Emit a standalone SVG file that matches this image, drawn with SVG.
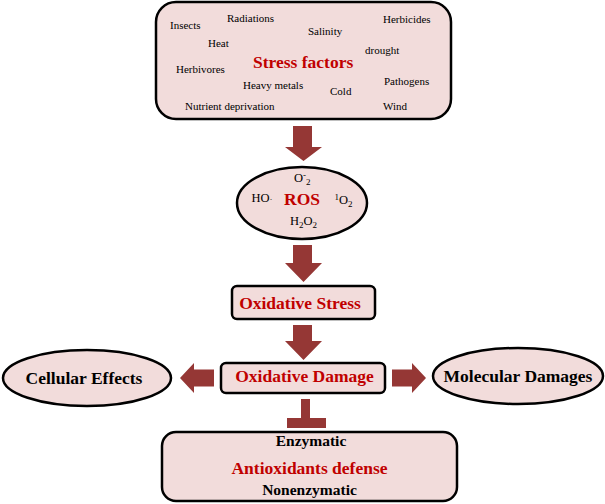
<svg xmlns="http://www.w3.org/2000/svg" width="605" height="504" viewBox="0 0 605 504">
<style>
.box{fill:#f2dcdb;stroke:#000;stroke-width:2.5}
.arr{fill:#953735}
text{font-family:"Liberation Serif","Times New Roman",serif}
.sm{font-size:11px;fill:#000}
.ttl{font-size:17.5px;font-weight:bold;fill:#c00000}
.blk{font-size:17.5px;font-weight:bold;fill:#000}
.sub{font-size:15.5px;font-weight:bold;fill:#000}
.chem{font-size:12.5px;fill:#000}
</style>
<rect width="605" height="504" fill="#fff"/>
<g id="connectors">
<polygon class="arr" points="293,126 312,126 312,147 322,147 303.5,161 285,147 293,147"/>
<polygon class="arr" points="293,245 312,245 312,263 322,263 303.5,282 285,263 293,263"/>
<polygon class="arr" points="293,325 312,325 312,341 322,341 303.5,360 285,341 293,341"/>
<polygon class="arr" points="214,369.5 194,369.5 194,363 180,378 194,393 194,386.5 214,386.5"/>
<polygon class="arr" points="392,369.5 412,369.5 412,363 426,378 412,393 412,386.5 392,386.5"/>
<polygon class="arr" points="301,399 310,399 310,418 326,418 326,428 287,428 287,418 301,418"/>
</g>
<g id="stress-factors">
<rect class="box" x="156" y="2" width="295" height="117" rx="20"/>
<text class="sm" x="170" y="29">Insects</text>
<text class="sm" x="227" y="22">Radiations</text>
<text class="sm" x="208" y="47">Heat</text>
<text class="sm" x="176" y="73">Herbivores</text>
<text class="sm" x="243" y="89">Heavy metals</text>
<text class="sm" x="185" y="110">Nutrient deprivation</text>
<text class="sm" x="308" y="35">Salinity</text>
<text class="sm" x="383" y="23">Herbicides</text>
<text class="sm" x="365" y="54">drought</text>
<text class="sm" x="384" y="85">Pathogens</text>
<text class="sm" x="330" y="95">Cold</text>
<text class="sm" x="383" y="110">Wind</text>
<text class="ttl" x="253" y="68">Stress factors</text>
</g>
<g id="ros">
<ellipse class="box" cx="302" cy="203" rx="65" ry="36"/>
<text class="chem" x="294" y="182">O<tspan font-size="9" dy="-4">-</tspan><tspan font-size="9" dy="7">2</tspan></text>
<text class="chem" x="251.5" y="202">HO<tspan font-size="9">·</tspan></text>
<text class="ttl" x="284" y="204.5">ROS</text>
<text class="chem" x="334.5" y="204"><tspan font-size="9" dy="-4">1</tspan><tspan dy="4">O</tspan><tspan font-size="9" dy="3">2</tspan></text>
<text class="chem" x="290" y="225">H<tspan font-size="9" dy="3">2</tspan><tspan dy="-3">O</tspan><tspan font-size="9" dy="3">2</tspan></text>
</g>
<g id="oxidative-stress">
<rect class="box" x="232" y="286" width="143" height="33" rx="5"/>
<text class="ttl" x="300" y="308.5" text-anchor="middle">Oxidative Stress</text>
</g>
<g id="oxidative-damage">
<rect class="box" x="221" y="363" width="164" height="30" rx="5"/>
<text class="ttl" x="304.5" y="382" text-anchor="middle">Oxidative Damage</text>
</g>
<g id="cellular-effects">
<ellipse class="box" cx="87" cy="378" rx="84" ry="28"/>
<text class="blk" x="84" y="384" text-anchor="middle">Cellular Effects</text>
</g>
<g id="molecular-damages">
<ellipse class="box" cx="518" cy="376" rx="85" ry="28"/>
<text class="blk" x="518" y="382" text-anchor="middle">Molecular Damages</text>
</g>
<g id="antioxidants">
<rect class="box" x="162" y="432" width="295" height="69" rx="14"/>
<text class="sub" x="311" y="446" text-anchor="middle">Enzymatic</text>
<text class="ttl" x="309.5" y="473.5" text-anchor="middle">Antioxidants defense</text>
<text class="sub" x="309.5" y="494.5" text-anchor="middle">Nonenzymatic</text>
</g>
</svg>
